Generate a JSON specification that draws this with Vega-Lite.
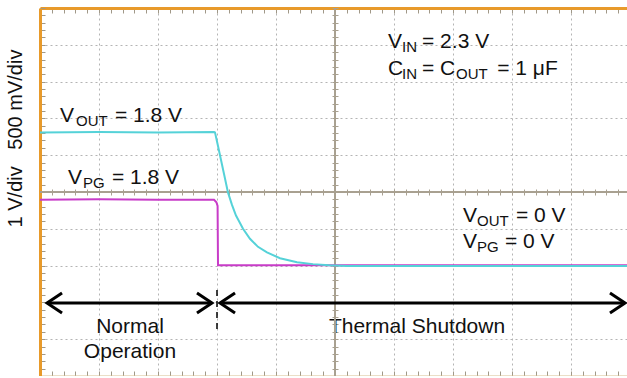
{
  "$schema": "https://vega.github.io/schema/vega-lite/v6.json",
  "width": 590,
  "height": 368,
  "autosize": {"type": "none"},
  "padding": {"left": 40, "top": 8, "right": 0, "bottom": 0},
  "background": "white",
  "config": {
    "view": {"stroke": null},
    "font": "Liberation Sans",
    "text": {"font": "Liberation Sans"}
  },
  "datasets": {
    "traces": [
      {"ch": "VPG", "t": 0, "v": 4.79},
      {"ch": "VPG", "t": 1, "v": 4.8},
      {"ch": "VPG", "t": 2, "v": 4.79},
      {"ch": "VPG", "t": 2.95, "v": 4.79},
      {"ch": "VPG", "t": 2.99, "v": 4.72},
      {"ch": "VPG", "t": 3.01, "v": 4.62},
      {"ch": "VPG", "t": 3.017, "v": 3.01},
      {"ch": "VPG", "t": 3.2, "v": 3.01},
      {"ch": "VPG", "t": 6, "v": 3.01},
      {"ch": "VPG", "t": 10, "v": 3.01},
      {"ch": "VOUT", "t": 0, "v": 6.62},
      {"ch": "VOUT", "t": 1, "v": 6.63},
      {"ch": "VOUT", "t": 2, "v": 6.62},
      {"ch": "VOUT", "t": 2.95, "v": 6.63},
      {"ch": "VOUT", "t": 2.966, "v": 6.62},
      {"ch": "VOUT", "t": 3.017, "v": 6.25},
      {"ch": "VOUT", "t": 3.068, "v": 5.87},
      {"ch": "VOUT", "t": 3.119, "v": 5.49},
      {"ch": "VOUT", "t": 3.186, "v": 4.99},
      {"ch": "VOUT", "t": 3.254, "v": 4.65},
      {"ch": "VOUT", "t": 3.322, "v": 4.36},
      {"ch": "VOUT", "t": 3.441, "v": 4.0},
      {"ch": "VOUT", "t": 3.559, "v": 3.73},
      {"ch": "VOUT", "t": 3.695, "v": 3.51},
      {"ch": "VOUT", "t": 3.847, "v": 3.36},
      {"ch": "VOUT", "t": 4.068, "v": 3.2},
      {"ch": "VOUT", "t": 4.356, "v": 3.09},
      {"ch": "VOUT", "t": 4.627, "v": 3.04},
      {"ch": "VOUT", "t": 4.9, "v": 3.01},
      {"ch": "VOUT", "t": 5.2, "v": 2.99},
      {"ch": "VOUT", "t": 7, "v": 2.99},
      {"ch": "VOUT", "t": 10, "v": 2.99}
    ],
    "labels": [
      {"txt": "V", "x": 0.339, "y": 6.902, "k": "main"},
      {"txt": "OUT", "x": 0.61, "y": 6.793, "k": "sub"},
      {"txt": "= 1.8 V", "x": 1.271, "y": 6.902, "k": "main"},
      {"txt": "V", "x": 0.475, "y": 5.217, "k": "main"},
      {"txt": "PG", "x": 0.729, "y": 5.109, "k": "sub"},
      {"txt": "= 1.8 V", "x": 1.22, "y": 5.217, "k": "main"},
      {"txt": "V", "x": 5.898, "y": 8.913, "k": "main"},
      {"txt": "IN", "x": 6.136, "y": 8.804, "k": "sub"},
      {"txt": "= 2.3 V", "x": 6.475, "y": 8.913, "k": "main"},
      {"txt": "C", "x": 5.898, "y": 8.179, "k": "main"},
      {"txt": "IN", "x": 6.136, "y": 8.071, "k": "sub"},
      {"txt": "= C", "x": 6.475, "y": 8.179, "k": "main"},
      {"txt": "OUT", "x": 7.051, "y": 8.071, "k": "sub"},
      {"txt": "= 1 μF", "x": 7.75, "y": 8.179, "k": "main"},
      {"txt": "V", "x": 7.169, "y": 4.185, "k": "main"},
      {"txt": "OUT", "x": 7.407, "y": 4.076, "k": "sub"},
      {"txt": "= 0 V", "x": 8.068, "y": 4.185, "k": "main"},
      {"txt": "V", "x": 7.169, "y": 3.478, "k": "main"},
      {"txt": "PG", "x": 7.407, "y": 3.37, "k": "sub"},
      {"txt": "= 0 V", "x": 7.88, "y": 3.478, "k": "main"}
    ],
    "centered": [
      {"txt": "Normal", "x": 1.525, "y": 1.168},
      {"txt": "Operation", "x": 1.525, "y": 0.489},
      {"txt": "Thermal Shutdown", "x": 6.39, "y": 1.168}
    ],
    "arrows": [
      {"x": 0.119, "x2": 2.915, "y": 1.984},
      {"x": 3.051, "x2": 9.915, "y": 1.984}
    ],
    "heads": [
      {"x": 0.119, "y": 1.984, "dir": "L"},
      {"x": 2.915, "y": 1.984, "dir": "R"},
      {"x": 3.051, "y": 1.984, "dir": "L"},
      {"x": 9.915, "y": 1.984, "dir": "R"}
    ],
    "divider": [
      {"x": 3.0, "y": 2.337, "y2": 1.25}
    ]
  },
  "resolve": {"axis": {"x": "independent", "y": "independent"}},
  "layer": [
    {
      "data": {"name": "centered"},
      "mark": {"type": "text", "align": "center", "baseline": "alphabetic", "fontSize": 21, "color": "#111111"},
      "encoding": {
        "x": {"field": "x", "type": "quantitative", "scale": {"domain": [0, 10], "nice": false, "zero": false},
          "axis": {"orient": "bottom", "domain": false, "labels": false, "ticks": true, "tickSize": 0, "title": null, "grid": true, "gridColor": "#b4b4b4", "gridOpacity": 1, "gridDash": [2, 3], "gridWidth": 1, "zindex": 0,
            "values": [1,2,3,4,6,7,8,9]}},
        "y": {"field": "y", "type": "quantitative", "scale": {"domain": [0, 10], "nice": false, "zero": false},
          "axis": {"orient": "left", "domain": false, "labels": false, "ticks": true, "tickSize": 0, "title": null, "grid": true, "gridColor": "#b4b4b4", "gridOpacity": 1, "gridDash": [2, 3], "gridWidth": 1, "zindex": 0,
            "values": [1,2,3,4,6,7,8,9]}},
        "text": {"field": "txt"}
      }
    },
    {
      "data": {"name": "traces"},
      "mark": {"type": "rule", "stroke": "#a8a090", "strokeWidth": 1},
      "encoding": {
        "x": {"datum": 5, "type": "quantitative", "scale": {"domain": [0, 10], "nice": false, "zero": false},
          "axis": {"orient": "bottom", "offset": -187, "domain": false, "labels": false, "title": null, "grid": false, "ticks": true, "tickSize": 6, "tickColor": "#a8a090", "tickWidth": 1,
            "values": [0,0.2,0.4,0.6,0.8,1,1.2,1.4,1.6,1.8,2,2.2,2.4,2.6,2.8,3,3.2,3.4,3.6,3.8,4,4.2,4.4,4.6,4.8,5,5.2,5.4,5.6,5.8,6,6.2,6.4,6.6,6.8,7,7.2,7.4,7.6,7.8,8,8.2,8.4,8.6,8.8,9,9.2,9.4,9.6,9.8,10]}}
      }
    },
    {
      "data": {"name": "traces"},
      "mark": {"type": "rule", "stroke": "#a8a090", "strokeWidth": 1},
      "encoding": {
        "y": {"datum": 5, "type": "quantitative", "scale": {"domain": [0, 10], "nice": false, "zero": false},
          "axis": {"orient": "left", "offset": -298, "domain": false, "labels": false, "title": null, "grid": false, "ticks": true, "tickSize": 6, "tickColor": "#a8a090", "tickWidth": 1,
            "values": [0,0.2,0.4,0.6,0.8,1,1.2,1.4,1.6,1.8,2,2.2,2.4,2.6,2.8,3,3.2,3.4,3.6,3.8,4,4.2,4.4,4.6,4.8,5,5.2,5.4,5.6,5.8,6,6.2,6.4,6.6,6.8,7,7.2,7.4,7.6,7.8,8,8.2,8.4,8.6,8.8,9,9.2,9.4,9.6,9.8,10]}}
      }
    },
    {
      "data": {"name": "labels"},
      "mark": {"type": "text", "align": "left", "baseline": "alphabetic", "color": "#111111"},
      "encoding": {
        "x": {"field": "x", "type": "quantitative", "scale": {"domain": [0, 10], "nice": false, "zero": false},
          "axis": {"orient": "bottom", "domain": true, "domainColor": "#d8c090", "domainWidth": 2, "labels": false, "title": null, "grid": false, "ticks": true, "tickSize": -5, "tickColor": "#a09888",
            "values": [0,0.2,0.4,0.6,0.8,1,1.2,1.4,1.6,1.8,2,2.2,2.4,2.6,2.8,3,3.2,3.4,3.6,3.8,4,4.2,4.4,4.6,4.8,5,5.2,5.4,5.6,5.8,6,6.2,6.4,6.6,6.8,7,7.2,7.4,7.6,7.8,8,8.2,8.4,8.6,8.8,9,9.2,9.4,9.6,9.8,10]}},
        "y": {"field": "y", "type": "quantitative", "scale": {"domain": [0, 10], "nice": false, "zero": false}, "axis": null},
        "text": {"field": "txt"},
        "size": {"field": "k", "type": "nominal", "scale": {"domain": ["main", "sub"], "range": [21, 15]}, "legend": null}
      }
    },
    {
      "data": {"name": "traces"},
      "mark": {"type": "line", "strokeWidth": 2, "interpolate": "linear"},
      "encoding": {
        "x": {"field": "t", "type": "quantitative", "scale": {"domain": [0, 10], "nice": false, "zero": false},
          "axis": {"orient": "top", "domain": true, "domainColor": "#e89a2a", "domainWidth": 3, "labels": false, "title": null, "grid": false, "ticks": true, "tickSize": -5, "tickColor": "#a09888",
            "values": [0,0.2,0.4,0.6,0.8,1,1.2,1.4,1.6,1.8,2,2.2,2.4,2.6,2.8,3,3.2,3.4,3.6,3.8,4,4.2,4.4,4.6,4.8,5,5.2,5.4,5.6,5.8,6,6.2,6.4,6.6,6.8,7,7.2,7.4,7.6,7.8,8,8.2,8.4,8.6,8.8,9,9.2,9.4,9.6,9.8,10]}},
        "y": {"field": "v", "type": "quantitative", "scale": {"domain": [0, 10], "nice": false, "zero": false},
          "axis": {"orient": "left", "domain": true, "domainColor": "#e89a2a", "domainWidth": 3, "labels": false, "grid": false, "ticks": true, "tickSize": -5, "tickColor": "#a09888",
            "title": "1 V/div\u00a0\u00a0\u00a0500 mV/div", "titleFont": "Liberation Sans", "titleFontSize": 20, "titleFontWeight": "normal", "titleColor": "#111111",
            "titleAngle": -90, "titleAlign": "center", "titleBaseline": "middle", "titleX": -25, "titleY": 130,
            "values": [0,0.2,0.4,0.6,0.8,1,1.2,1.4,1.6,1.8,2,2.2,2.4,2.6,2.8,3,3.2,3.4,3.6,3.8,4,4.2,4.4,4.6,4.8,5,5.2,5.4,5.6,5.8,6,6.2,6.4,6.6,6.8,7,7.2,7.4,7.6,7.8,8,8.2,8.4,8.6,8.8,9,9.2,9.4,9.6,9.8,10]}},
        "color": {"field": "ch", "type": "nominal", "scale": {"domain": ["VOUT", "VPG"], "range": ["#55d2d8", "#c83cc8"]}, "legend": null},
        "order": {"field": "t", "type": "quantitative"}
      }
    },
    {
      "data": {"name": "arrows"},
      "mark": {"type": "rule", "stroke": "#000000", "strokeWidth": 3},
      "encoding": {
        "x": {"field": "x", "type": "quantitative", "scale": {"domain": [0, 10], "nice": false, "zero": false}, "axis": null},
        "x2": {"field": "x2"},
        "y": {"field": "y", "type": "quantitative", "scale": {"domain": [0, 10], "nice": false, "zero": false}, "axis": null}
      }
    },
    {
      "data": {"name": "heads"},
      "mark": {"type": "point", "filled": false, "stroke": "#000000", "strokeWidth": 3, "opacity": 1, "size": 900},
      "encoding": {
        "x": {"field": "x", "type": "quantitative", "scale": {"domain": [0, 10], "nice": false, "zero": false}, "axis": null},
        "y": {"field": "y", "type": "quantitative", "scale": {"domain": [0, 10], "nice": false, "zero": false}, "axis": null},
        "shape": {"field": "dir", "type": "nominal", "scale": {"domain": ["L", "R"], "range": ["M1,-0.67L0,0L1,0.67", "M-1,-0.67L0,0L-1,0.67"]}, "legend": null}
      }
    },
    {
      "data": {"name": "divider"},
      "mark": {"type": "rule", "stroke": "#000000", "strokeWidth": 1.5, "strokeDash": [6, 5]},
      "encoding": {
        "x": {"field": "x", "type": "quantitative", "scale": {"domain": [0, 10], "nice": false, "zero": false}, "axis": null},
        "y": {"field": "y", "type": "quantitative", "scale": {"domain": [0, 10], "nice": false, "zero": false}, "axis": null},
        "y2": {"field": "y2"}
      }
    }
  ]
}
